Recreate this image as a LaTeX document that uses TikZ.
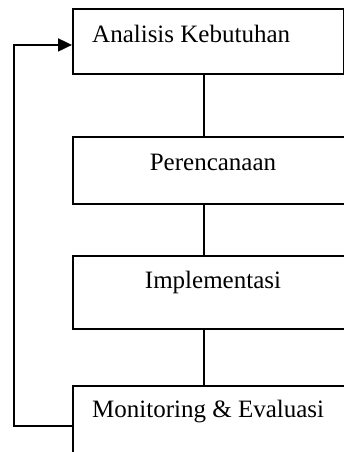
\documentclass[tikz,border=0pt]{standalone}
\usepackage{fontspec}
\setmainfont{Liberation Serif}
\usetikzlibrary{arrows.meta}
\begin{document}
\begin{tikzpicture}[x=1pt,y=-1pt,
  box/.style={draw, line width=1.9pt, rectangle, inner sep=0pt, anchor=north west},
  conn/.style={line width=1.9pt},
  lbl/.style={font=\fontsize{25}{30}\selectfont, inner sep=0pt}]
\useasboundingbox (0,0) rectangle (344,452);
\clip (0,0) rectangle (344,452);
\node[box, minimum width=271pt, minimum height=65pt] (b1) at (72,8) {};
\node[box, minimum width=300pt, minimum height=67pt] (b2) at (72,136) {};
\node[box, minimum width=300pt, minimum height=73pt] (b3) at (72,255) {};
\node[box, minimum width=300pt, minimum height=80pt] (b4) at (72,385) {};
\node[lbl, anchor=base west] (t1) at (92,42) {Analisis Kebutuhan};
\node[lbl, anchor=base] (t2) at (213,170) {Perencanaan};
\node[lbl, anchor=base] (t3) at (213,288) {Implementasi};
\node[lbl, anchor=base west] (t4) at (92,417) {Monitoring \& Evaluasi};
\coordinate (c1) at (204,73);
\coordinate (c2) at (204,136);
\coordinate (c3) at (204,203);
\coordinate (c4) at (204,255);
\coordinate (c5) at (204,328);
\coordinate (c6) at (204,385);
\draw[conn] (c1) -- (c2);
\draw[conn] (c3) -- (c4);
\draw[conn] (c5) -- (c6);
\draw[conn, -{Triangle[length=14pt,width=13pt]}] (b4.west) -- ++(-58,0) |- ([yshift=-3.5pt]b1.west);
\end{tikzpicture}
\end{document}
